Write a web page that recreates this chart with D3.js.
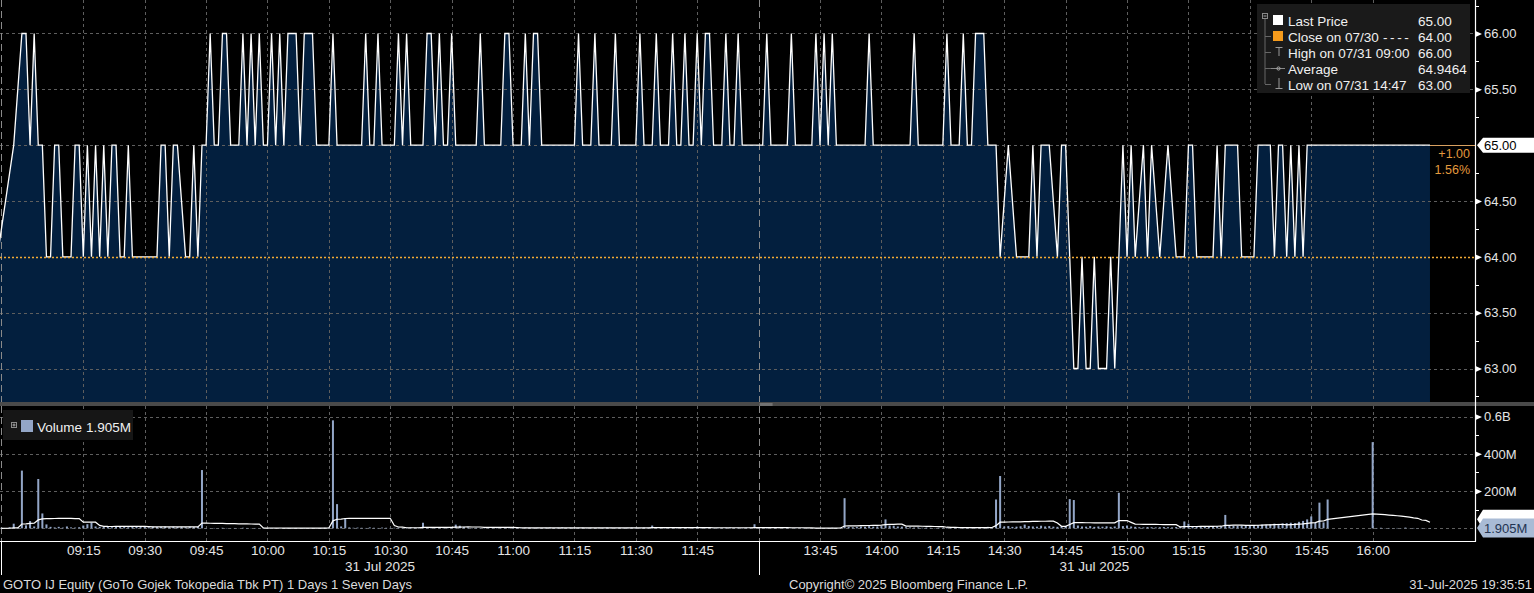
<!DOCTYPE html>
<html><head><meta charset="utf-8">
<script src="https://cdn.jsdelivr.net/npm/d3@7"></script>
<style>
html,body{margin:0;padding:0;background:#000;overflow:hidden;}
svg{display:block;}
text{font-family:"Liberation Sans",Arial,sans-serif;}
</style></head><body>
<svg id="c" width="1534" height="593"></svg>
<script>
// ---------------- DATA ----------------
const priceTimes = ["08:54","08:58","09:00","09:01","09:02","09:03","09:04","09:05","09:06","09:07","09:08","09:09","09:10","09:12","09:13","09:14","09:15","09:16","09:17","09:18","09:19","09:20","09:21","09:22","09:23","09:24","09:25","09:26","09:27","09:33","09:34","09:35","09:36","09:37","09:38","09:40","09:41","09:42","09:43","09:44","09:45","09:46","09:47","09:48","09:49","09:50","09:51","09:53","09:54","09:55","09:56","09:57","09:58","09:59","10:00","10:01","10:02","10:03","10:04","10:05","10:07","10:08","10:09","10:11","10:12","10:15","10:16","10:17","10:23","10:24","10:25","10:26","10:27","10:28","10:31","10:32","10:33","10:34","10:35","10:38","10:39","10:40","10:41","10:42","10:43","10:44","10:45","10:46","10:51","10:52","10:53","10:57","10:58","10:59","11:00","11:02","11:03","11:04","11:05","11:06","11:07","11:15","11:16","11:17","11:19","11:20","11:21","11:24","11:25","11:26","11:30","11:31","11:32","11:34","11:35","11:36","11:38","11:39","11:40","11:41","11:42","11:43","11:44","11:45","11:46","11:47","11:48","11:49","11:51","11:52","11:53","11:54","11:55","11:56","11:59",
"13:30","13:31","13:32","13:33","13:37","13:38","13:39","13:43","13:44","13:45","13:46","13:47","13:48","13:49","13:56","13:57","13:58","14:07","14:08","14:09","14:15","14:16","14:17","14:19","14:20","14:21","14:22","14:23","14:25","14:26","14:28","14:29","14:31","14:33","14:36","14:37","14:38","14:39","14:41","14:43","14:44","14:45","14:47","14:48","14:49","14:50","14:51","14:52","14:53","14:55","14:56","14:57","14:59","15:00","15:01","15:02","15:04","15:05","15:06","15:08","15:10","15:12","15:14","15:15","15:16","15:17","15:21","15:22","15:23","15:24","15:27","15:28","15:31","15:32","15:35","15:36","15:37","15:38","15:39","15:40","15:41","15:42","15:43","15:44","16:14"];
const priceValues = [64,65,66,66,65,66,65,65,64,64,65,65,64,64,65,65,64,65,64,65,64,65,64,65,65,64,64,65,64,64,65,65,64,65,65,64,64,65,64,65,65,66,65,65,66,66,65,65,66,65,66,65,66,65,65,66,65,66,65,66,66,65,66,66,65,65,66,65,65,66,65,65,66,65,65,66,65,66,65,65,66,66,65,66,65,65,66,65,65,66,65,65,66,66,65,65,66,65,66,66,65,65,66,65,65,66,65,65,66,65,65,66,65,65,66,65,65,66,65,65,66,65,65,66,65,66,66,65,65,66,65,65,66,65,65,
65,65,66,65,65,66,65,65,66,65,66,65,66,65,65,66,65,65,66,65,65,66,65,65,66,65,65,66,66,65,65,64,65,64,64,65,64,65,65,64,65,65,63,63,64,63,63,64,63,63,64,63,65,64,65,64,65,64,65,64,65,64,64,65,65,64,64,65,64,65,65,64,64,65,65,64,65,65,64,65,64,65,64,65,65];

const morningStart = "08:55";
const morningVolume = [ // millions, one per minute
  3,null,6,25,4,
  310,16,39,10,265,80,21,8,5,8,4,10,5,4,6,
  15,22,30,10,8,7,9,6,8,10,7,6,9,8,7,
  8,6,9,7,8,10,6,9,7,8,6,9,7,8,313,
  2,1,2,1,3,2,1,2,1,3,2,1,2,1,2,
  1,2,1,2,1,2,1,2,1,2,1,2,1,2,3,
  3,580,130,10,53,5,3,4,3,2,5,3,2,4,3,
  2,3,4,2,3,5,3,3,30,2,3,2,4,3,5,
  4,20,14,8,5,2,3,2,4,3,2,3,2,4,3,
  2,3,2,4,3,2,3,2,3,4,2,3,5,2,3,
  2,3,4,2,3,2,3,2,4,3,2,3,2,3,4,
  3,2,4,3,15,2,3,4,2,3,2,3,4,2,3,
  9,2,3,4,2,3,2,3,4,2,3,2,3,4,22];
const afternoonStart = "13:30";
const afternoonVolume = [
  2,1,2,1,2,1,1,2,1,2,1,2,1,1,2,
  2,1,2,3,2,3,162,8,6,7,10,8,12,9,10,
  12,48,15,14,10,9,6,5,4,5,3,4,3,2,3,
  3,4,5,4,6,5,4,3,5,4,6,8,4,155,281,
  10,12,8,9,11,20,12,10,9,14,10,12,9,8,10,
  12,157,152,15,10,9,12,8,10,9,11,8,10,191,12,
  15,10,8,6,5,7,6,5,6,7,6,5,7,8,37,
  25,10,8,9,8,10,9,12,10,72,12,14,13,15,14,
  16,18,17,20,19,22,25,24,26,28,30,28,35,40,48,
  64,30,138,32,155,null,null,null,null,null,null,null,null,null,null,
  463,2,3,1,2,1,2,1,4,1,2,1,2,1,1.905];

const priceTicks = [63, 63.5, 64, 64.5, 65, 65.5, 66];
const priceMinorTicks = [62.75, 63.25, 63.75, 64.25, 64.75, 65.25, 65.75, 66.25];
const volumeTicks = [0, 200, 400, 600];
const volumeTickLabels = ["", "200M", "400M", "0.6B"];
const volumeMinorTicks = [100, 300, 500];
const timeTicks = ["09:15","09:30","09:45","10:00","10:15","10:30","10:45","11:00","11:15","11:30","11:45","13:45","14:00","14:15","14:30","14:45","15:00","15:15","15:30","15:45","16:00"];
const sessionBreaks = ["08:55","12:00"];
const dateLabel = "31 Jul 2025";
const prevClose = 64.00;
const lastPrice = 65.00;
const legendLabels = ["Last Price","Close on 07/30","High on 07/31 09:00","Average","Low on 07/31 14:47"];
const legendValues = ["65.00","64.00","66.00","64.9464","63.00"];
const volumeLegend = ["Volume","1.905M"];
const footerLeft = "GOTO IJ Equity (GoTo Gojek Tokopedia Tbk PT) 1 Days 1 Seven Days";
const footerMid = "Copyright\u00A9 2025 Bloomberg Finance L.P.";
const footerRight = "31-Jul-2025 19:35:51";

// ---------------- HELPERS ----------------
const toMin = s => { const [h,m] = s.split(":").map(Number); return h*60+m; };
const pad2 = d3.format("02");
const fmtT = m => pad2(Math.floor(m/60)) + ":" + pad2(m%60);

const price = priceTimes.map((t,i)=>({t:toMin(t), v:priceValues[i]}));
const bars = [];
morningVolume.forEach((v,i)=>{ if(v!=null) bars.push({t:toMin(morningStart)+i, v}); });
afternoonVolume.forEach((v,i)=>{ if(v!=null) bars.push({t:toMin(afternoonStart)+i, v}); });
const smaN = 15;
const sma = bars.map((b,i)=>{
  let s=0; for(let k=Math.max(0,i-smaN+1);k<=i;k++) s+=bars[k].v;
  return {t:b.t, v:s/smaN};
});

// ---------------- LAYOUT ----------------
const W=1534, H=593;
const plotR = 1475, pTop=0, pBot=402, vTop=406, vBot=541;
const svg = d3.select("#c");
svg.append("rect").attr("width",W).attr("height",H).attr("fill","#000");

const x = d3.scaleLinear()
  .domain([toMin("08:55")-0.35, toMin("12:00"), toMin("13:30"), toMin("16:25")])
  .range([0, 758.6, 758.6, plotR]);
const yP = d3.scaleLinear().domain([62.7, 66.3]).range([pBot, pTop]);
const yV = d3.scaleLinear().domain([-68, 657]).range([vBot, vTop]);

const defs = svg.append("defs");
defs.append("clipPath").attr("id","cp").append("rect").attr("x",0).attr("y",pTop).attr("width",plotR).attr("height",pBot-pTop);
defs.append("clipPath").attr("id","cv").append("rect").attr("x",0).attr("y",vTop).attr("width",plotR).attr("height",vBot-vTop);

const GRID = "#5e5e5e";
// ---- price panel ----
const gp = svg.append("g").attr("clip-path","url(#cp)");
gp.append("path").datum(price)
  .attr("d", d3.area().x(d=>x(d.t)).y0(pBot).y1(d=>yP(d.v)))
  .attr("fill","#031f3e");
gp.selectAll("line.hg").data(priceTicks.filter(v=>v!==prevClose)).join("line")
  .attr("x1",0).attr("x2",plotR).attr("y1",d=>Math.round(yP(d))+0.5).attr("y2",d=>Math.round(yP(d))+0.5)
  .attr("stroke",GRID).attr("stroke-dasharray","3,3");
gp.selectAll("line.vg").data(timeTicks).join("line")
  .attr("x1",d=>Math.round(x(toMin(d)))+0.5).attr("x2",d=>Math.round(x(toMin(d)))+0.5)
  .attr("y1",pTop).attr("y2",pBot)
  .attr("stroke",GRID).attr("stroke-dasharray","3,3");
gp.selectAll("line.sb").data(sessionBreaks).join("line")
  .attr("x1",d=>Math.round(x(toMin(d)))+0.5).attr("x2",d=>Math.round(x(toMin(d)))+0.5)
  .attr("y1",pTop).attr("y2",pBot)
  .attr("stroke","#8a8a8a").attr("stroke-dasharray","7,4");
gp.append("path").datum(price)
  .attr("d", d3.line().x(d=>x(d.t)).y(d=>yP(d.v)))
  .attr("fill","none").attr("stroke","#ffffff").attr("stroke-width",1.3).attr("stroke-linejoin","miter");
gp.append("line").attr("x1",0).attr("x2",plotR)
  .attr("y1",Math.round(yP(prevClose))+0.5).attr("y2",Math.round(yP(prevClose))+0.5)
  .attr("stroke","#f2aa35").attr("stroke-width",1.5).attr("stroke-dasharray","2,2");
const lastT = price[price.length-1].t;
gp.append("line").attr("x1",x(lastT)).attr("x2",plotR)
  .attr("y1",Math.round(yP(lastPrice))+0.5).attr("y2",Math.round(yP(lastPrice))+0.5)
  .attr("stroke","#d8a060").attr("stroke-width",1);

// separator band
svg.append("rect").attr("x",0).attr("y",pBot).attr("width",W).attr("height",vTop-pBot).attr("fill","#4a4a4a");
svg.append("rect").attr("x",x(toMin("12:00"))+1).attr("y",pBot+1.5).attr("width",13).attr("height",1).attr("fill","#9a9a9a");
svg.append("rect").attr("x",x(toMin("12:00"))+1).attr("y",pBot+3).attr("width",13).attr("height",0.8).attr("fill","#7a7a7a");

// ---- volume panel ----
const gv = svg.append("g").attr("clip-path","url(#cv)");
gv.selectAll("line.hg").data(volumeTicks).join("line")
  .attr("x1",0).attr("x2",plotR).attr("y1",d=>Math.round(yV(d))+0.5).attr("y2",d=>Math.round(yV(d))+0.5)
  .attr("stroke",GRID).attr("stroke-dasharray","3,3");
gv.selectAll("line.vg").data(timeTicks).join("line")
  .attr("x1",d=>Math.round(x(toMin(d)))+0.5).attr("x2",d=>Math.round(x(toMin(d)))+0.5)
  .attr("y1",vTop).attr("y2",vBot)
  .attr("stroke",GRID).attr("stroke-dasharray","3,3");
gv.selectAll("line.sb").data(sessionBreaks).join("line")
  .attr("x1",d=>Math.round(x(toMin(d)))+0.5).attr("x2",d=>Math.round(x(toMin(d)))+0.5)
  .attr("y1",vTop).attr("y2",vBot)
  .attr("stroke","#8a8a8a").attr("stroke-dasharray","7,4");
gv.selectAll("rect.bar").data(bars).join("rect")
  .attr("x",d=>x(d.t)-1).attr("width",2)
  .attr("y",d=>yV(d.v)).attr("height",d=>yV(0)-yV(d.v))
  .attr("fill","#93a6c7");
gv.append("path").datum(sma)
  .attr("d", d3.line().x(d=>x(d.t)).y(d=>yV(d.v)))
  .attr("fill","none").attr("stroke","#ffffff").attr("stroke-width",1.2);

// ---- axes frame ----
svg.append("line").attr("x1",plotR+0.5).attr("x2",plotR+0.5).attr("y1",0).attr("y2",vBot+0.5).attr("stroke","#fff").attr("stroke-width",1.2);
svg.append("line").attr("x1",0).attr("x2",plotR+1).attr("y1",vBot+0.5).attr("y2",vBot+0.5).attr("stroke","#fff").attr("stroke-width",1.2);
svg.selectAll("line.sbt").data(sessionBreaks).join("line")
  .attr("x1",d=>Math.round(x(toMin(d)))+0.5).attr("x2",d=>Math.round(x(toMin(d)))+0.5)
  .attr("y1",vBot).attr("y2",575).attr("stroke","#fff").attr("stroke-width",1);

const TXT = "#e4e4e4";
// bottom axis
const gx = svg.append("g").attr("transform",`translate(0,${vBot})`)
  .call(d3.axisBottom(x).tickValues(timeTicks.map(toMin)).tickFormat(fmtT).tickSize(0).tickPadding(4));
gx.select(".domain").remove();
gx.selectAll("text").attr("fill",TXT).attr("font-size","13.5px").attr("font-family","Liberation Sans, Arial, sans-serif");
// date labels
const sessionsMid = [ (x(toMin("08:55"))+x(toMin("12:00")))/2 , (x(toMin("13:30"))+x(toMin("16:14")))/2 ];
svg.selectAll("text.date").data(sessionsMid).join("text")
  .attr("x",d=>d).attr("y",571).attr("text-anchor","middle").attr("fill",TXT).attr("font-size","13.5px").text(dateLabel);

// right price axis
const gyp = svg.append("g").attr("transform",`translate(${plotR},0)`)
  .call(d3.axisRight(yP).tickValues(priceTicks.filter(v=>v!==lastPrice)).tickFormat(d3.format(".2f")).tickSize(0).tickPadding(9));
gyp.select(".domain").remove();
gyp.selectAll("text").attr("fill",TXT).attr("font-size","13px").attr("font-family","Liberation Sans, Arial, sans-serif");
gyp.selectAll(".tick").append("path").attr("d","M0,-3.2L7,0L0,3.2Z").attr("fill","#fff");
svg.selectAll("line.pmin").data(priceMinorTicks).join("line")
  .attr("x1",plotR).attr("x2",plotR+4).attr("y1",d=>Math.round(yP(d))+0.5).attr("y2",d=>Math.round(yP(d))+0.5)
  .attr("stroke","#fff");

// right volume axis
const gyv = svg.append("g").attr("transform",`translate(${plotR},0)`)
  .call(d3.axisRight(yV).tickValues(volumeTicks.slice(1)).tickFormat((d,i)=>volumeTickLabels[i+1]).tickSize(0).tickPadding(9));
gyv.select(".domain").remove();
gyv.selectAll("text").attr("fill",TXT).attr("font-size","13px").attr("font-family","Liberation Sans, Arial, sans-serif");
gyv.selectAll(".tick").append("path").attr("d","M0,-3.2L7,0L0,3.2Z").attr("fill","#fff");
svg.selectAll("line.vmin").data(volumeMinorTicks).join("line")
  .attr("x1",plotR).attr("x2",plotR+4).attr("y1",d=>Math.round(yV(d))+0.5).attr("y2",d=>Math.round(yV(d))+0.5)
  .attr("stroke","#fff");

// value flags
function flag(yc, h){
  return `M${plotR+2},${yc} L${plotR+8},${yc-h/2} L${W},${yc-h/2} L${W},${yc+h/2} L${plotR+8},${yc+h/2} Z`;
}
const yl = yP(lastPrice);
svg.append("path").attr("d",flag(yl,15)).attr("fill","#ffffff");
svg.append("text").attr("x",plotR+9).attr("y",yl+5).attr("fill","#000").attr("font-size","13px").text(d3.format(".2f")(lastPrice));
const chg = lastPrice - prevClose;
svg.append("text").attr("x",1470).attr("y",yl+13).attr("text-anchor","end").attr("fill","#e39a3e").attr("font-size","12.5px").text(d3.format("+.2f")(chg));
svg.append("text").attr("x",1470).attr("y",yl+29).attr("text-anchor","end").attr("fill","#e39a3e").attr("font-size","12.5px").text(d3.format(".2f")(chg/prevClose*100)+"%");

const lastSma = sma[sma.length-1].v;
const lastVol = bars[bars.length-1].v;
svg.append("path").attr("d",flag(yV(lastSma)-3,19)).attr("fill","#ffffff");
svg.append("path").attr("d",flag(yV(lastVol),19)).attr("fill","#a9bbd5");
svg.append("text").attr("x",plotR+9).attr("y",yV(lastVol)+5).attr("fill","#233452").attr("font-size","13px").text(d3.format(".3f")(lastVol)+"M");

// ---- price legend ----
const lg = svg.append("g");
lg.append("rect").attr("x",1257).attr("y",4).attr("width",213).attr("height",89).attr("fill","#1a1a1a");
const rowY = i => 25.5 + 16*i;
lg.append("rect").attr("x",1262.5).attr("y",13.5).attr("width",5).attr("height",5).attr("fill","none").attr("stroke","#8a8a8a");
lg.append("line").attr("x1",1263.5).attr("x2",1266.5).attr("y1",16).attr("y2",16).attr("stroke","#aaa");
lg.append("line").attr("x1",1265).attr("x2",1265).attr("y1",19).attr("y2",84).attr("stroke","#666");
[1,2,3,4].forEach(i=>lg.append("line").attr("x1",1265).attr("x2",1271).attr("y1",rowY(i)-5).attr("y2",rowY(i)-5).attr("stroke","#666"));
lg.append("rect").attr("x",1273).attr("y",15).attr("width",10).attr("height",10).attr("fill","#ffffff");
lg.append("rect").attr("x",1273).attr("y",31).attr("width",10).attr("height",10).attr("fill","#f59b1c");
lg.append("path").attr("d","M1275.5,47.5H1282.5M1279,47.5V56").attr("stroke","#999").attr("fill","none");
lg.append("path").attr("d","M1271,68.5H1285").attr("stroke","#888").attr("fill","none");
lg.append("circle").attr("cx",1278.5).attr("cy",68.5).attr("r",1.6).attr("fill","none").attr("stroke","#aaa");
lg.append("path").attr("d","M1279,78V88.5M1275.5,88.5H1282.5").attr("stroke","#999").attr("fill","none");
lg.selectAll("text.l").data(legendLabels).join("text")
  .attr("x",1288).attr("y",(d,i)=>rowY(i)).attr("fill","#f0f0f0").attr("font-size","13.5px").text(d=>d);
lg.append("text").attr("x",1383).attr("y",rowY(1)).attr("fill","#f0f0f0").attr("font-size","13.5px").attr("letter-spacing","2.6px").text("----");
lg.selectAll("text.v").data(legendValues).join("text")
  .attr("x",1418).attr("y",(d,i)=>rowY(i)).attr("fill","#f0f0f0").attr("font-size","13.5px").text(d=>d);

// ---- volume legend ----
const vl = svg.append("g");
vl.append("rect").attr("x",3).attr("y",410).attr("width",130).attr("height",30).attr("fill","#161616");
vl.append("rect").attr("x",11.5).attr("y",422.5).attr("width",5).attr("height",5).attr("fill","none").attr("stroke","#8a8a8a");
vl.append("path").attr("d","M12.5,425H15.5M14,423.5V426.5").attr("stroke","#aaa");
vl.append("rect").attr("x",21).attr("y",420).attr("width",12).attr("height",12).attr("fill","#93a6c7");
vl.append("text").attr("x",37).attr("y",432).attr("fill","#f0f0f0").attr("font-size","13.5px").text(volumeLegend[0]);
vl.append("text").attr("x",86).attr("y",432).attr("fill","#f0f0f0").attr("font-size","13.5px").text(volumeLegend[1]);

// ---- footer ----
svg.append("text").attr("x",3).attr("y",589).attr("fill","#dcdcdc").attr("font-size","13px").text(footerLeft);
svg.append("text").attr("x",789).attr("y",589).attr("fill","#dcdcdc").attr("font-size","13px").text(footerMid);
svg.append("text").attr("x",1532).attr("y",589).attr("text-anchor","end").attr("fill","#dcdcdc").attr("font-size","13px").text(footerRight);
</script>
</body></html>
